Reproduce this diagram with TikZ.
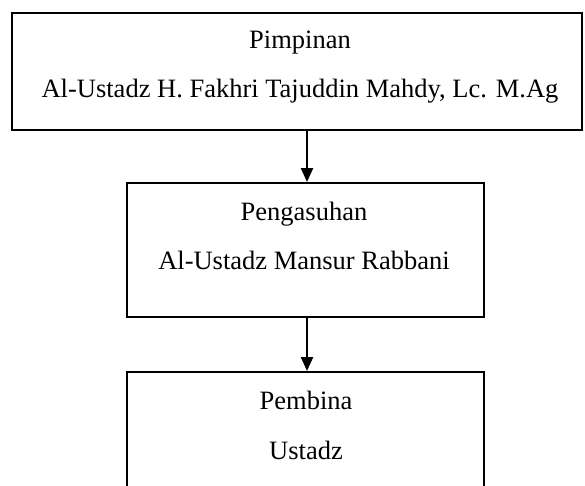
\documentclass[tikz,border=0pt]{standalone}
\usepackage{fontspec}
\setmainfont{Liberation Serif}
\usetikzlibrary{arrows.meta}
\begin{document}
\begin{tikzpicture}[x=1pt,y=-1pt,
  box/.style={draw,line width=2.4pt,inner sep=0pt,anchor=north west},
  txt/.style={anchor=base,inner sep=0pt,font=\fontsize{26.5}{30}\selectfont},
  link/.style={line width=2.4pt,-{Triangle[width=12pt,length=14pt]}}]
  \useasboundingbox (0,0) rectangle (585,485);

  % boxes
  \node[box,minimum width=570pt,minimum height=117pt] (pimpinan) at (11,12) {};
  \node[box,minimum width=357pt,minimum height=134pt] (pengasuhan) at (126,182) {};
  \node[box,minimum width=357pt,minimum height=140pt] (pembina) at (126,371) {};% cut at the bottom

  % texts
  \node[txt] (t1a) at (300,48) {Pimpinan};
  \node[txt] (t1b) at (300,97) {Al-Ustadz H. Fakhri Tajuddin Mahdy, Lc. M.Ag};
  \node[txt] (t2a) at (304,220) {Pengasuhan};
  \node[txt] (t2b) at (304,269) {Al-Ustadz Mansur Rabbani};
  \node[txt] (t3a) at (306,409) {Pembina};
  \node[txt] (t3b) at (306,459) {Ustadz};

  % arrows
  \coordinate (axis) at (307,0);
  \draw[link] (pimpinan.south -| axis) -- (pengasuhan.north -| axis);
  \draw[link] (pengasuhan.south -| axis) -- (pembina.north -| axis);
\end{tikzpicture}
\end{document}
